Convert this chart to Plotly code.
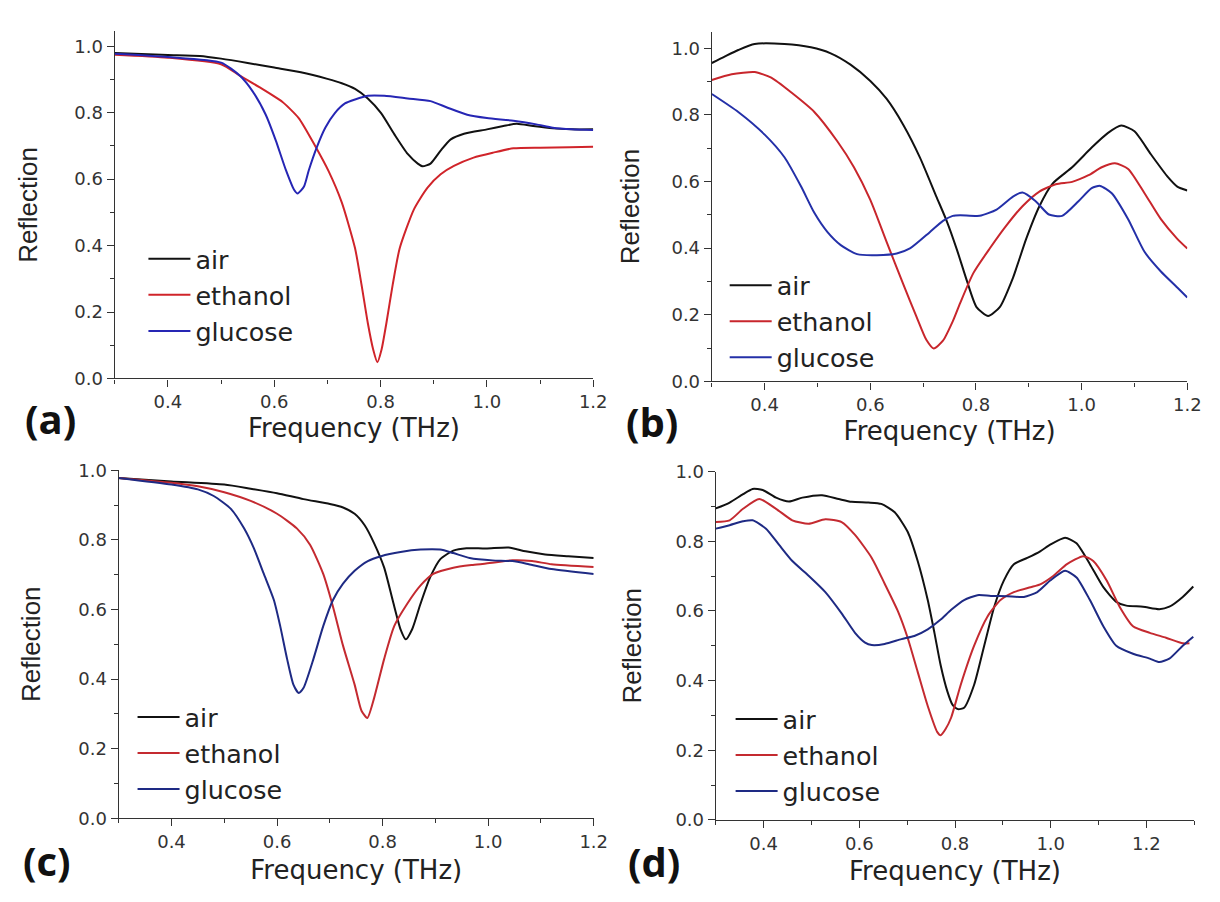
import plotly.graph_objects as go

# ---------------- Panel (a) ----------------
a_air_f = [0.30, 0.35, 0.40, 0.46, 0.50, 0.55, 0.60, 0.65, 0.70, 0.727, 0.752, 0.776, 0.801, 0.826, 0.851, 0.870, 0.879, 0.894, 0.913, 0.932, 0.957, 1.0, 1.031, 1.056, 1.087, 1.124, 1.16, 1.2]
a_air_r = [0.980, 0.977, 0.974, 0.971, 0.963, 0.950, 0.936, 0.922, 0.902, 0.889, 0.872, 0.843, 0.799, 0.735, 0.676, 0.647, 0.639, 0.647, 0.686, 0.720, 0.737, 0.750, 0.760, 0.767, 0.760, 0.753, 0.750, 0.750]
a_eth_f = [0.30, 0.40, 0.50, 0.535, 0.572, 0.615, 0.646, 0.677, 0.702, 0.727, 0.752, 0.764, 0.776, 0.786, 0.794, 0.802, 0.811, 0.823, 0.836, 0.863, 0.888, 0.913, 0.938, 0.975, 1.012, 1.05, 1.1, 1.155, 1.2]
a_eth_r = [0.975, 0.966, 0.946, 0.912, 0.877, 0.833, 0.784, 0.700, 0.625, 0.530, 0.392, 0.284, 0.167, 0.088, 0.049, 0.088, 0.167, 0.284, 0.392, 0.510, 0.574, 0.615, 0.640, 0.665, 0.680, 0.693, 0.695, 0.696, 0.698]
a_glu_f = [0.30, 0.40, 0.50, 0.535, 0.56, 0.584, 0.603, 0.622, 0.637, 0.644, 0.656, 0.665, 0.68, 0.696, 0.714, 0.733, 0.752, 0.776, 0.807, 0.851, 0.894, 0.925, 0.963, 1.0, 1.05, 1.093, 1.124, 1.16, 1.2]
a_glu_r = [0.978, 0.968, 0.951, 0.912, 0.863, 0.794, 0.716, 0.627, 0.569, 0.557, 0.578, 0.627, 0.696, 0.755, 0.799, 0.828, 0.840, 0.851, 0.851, 0.843, 0.835, 0.816, 0.794, 0.784, 0.776, 0.765, 0.755, 0.750, 0.748]

# ---------------- Panel (b) ----------------
b_air_f = [0.30, 0.325, 0.35, 0.381, 0.4375, 0.4875, 0.525, 0.5625, 0.60, 0.631, 0.6625, 0.694, 0.725, 0.745, 0.764, 0.783, 0.801, 0.823, 0.845, 0.87, 0.895, 0.92, 0.945, 0.982, 1.019, 1.05, 1.075, 1.10, 1.131, 1.163, 1.181, 1.20]
b_air_r = [0.956, 0.976, 0.995, 1.013, 1.013, 1.003, 0.985, 0.951, 0.902, 0.848, 0.770, 0.672, 0.555, 0.480, 0.395, 0.301, 0.223, 0.196, 0.223, 0.311, 0.428, 0.526, 0.594, 0.643, 0.702, 0.746, 0.768, 0.751, 0.682, 0.614, 0.585, 0.573]
b_eth_f = [0.30, 0.3375, 0.381, 0.4125, 0.45, 0.494, 0.5375, 0.569, 0.60, 0.631, 0.6625, 0.6875, 0.706, 0.72, 0.7375, 0.756, 0.77, 0.795, 0.826, 0.857, 0.888, 0.92, 0.951, 0.982, 1.013, 1.038, 1.063, 1.088, 1.119, 1.15, 1.181, 1.20]
b_eth_r = [0.905, 0.922, 0.929, 0.912, 0.868, 0.809, 0.721, 0.643, 0.545, 0.418, 0.291, 0.194, 0.125, 0.099, 0.122, 0.180, 0.235, 0.325, 0.399, 0.467, 0.526, 0.570, 0.592, 0.599, 0.619, 0.643, 0.655, 0.638, 0.565, 0.487, 0.428, 0.399]
b_glu_f = [0.30, 0.35, 0.40, 0.4375, 0.469, 0.494, 0.519, 0.544, 0.575, 0.6125, 0.65, 0.675, 0.7125, 0.7375, 0.756, 0.77, 0.807, 0.839, 0.87, 0.888, 0.913, 0.938, 0.963, 0.994, 1.019, 1.035, 1.057, 1.088, 1.119, 1.15, 1.181, 1.20]
b_glu_r = [0.863, 0.809, 0.741, 0.673, 0.585, 0.506, 0.448, 0.409, 0.382, 0.379, 0.384, 0.399, 0.448, 0.482, 0.497, 0.499, 0.497, 0.516, 0.555, 0.567, 0.541, 0.501, 0.497, 0.541, 0.580, 0.587, 0.565, 0.487, 0.389, 0.330, 0.282, 0.252]

# ---------------- Panel (c) ----------------
c_air_f = [0.30, 0.40, 0.50, 0.55, 0.60, 0.65, 0.70, 0.725, 0.747, 0.766, 0.784, 0.803, 0.819, 0.834, 0.844, 0.856, 0.872, 0.89, 0.909, 0.934, 0.959, 0.996, 1.039, 1.071, 1.108, 1.152, 1.20]
c_air_r = [0.978, 0.968, 0.959, 0.947, 0.934, 0.917, 0.903, 0.893, 0.875, 0.842, 0.790, 0.720, 0.627, 0.543, 0.514, 0.543, 0.617, 0.692, 0.744, 0.769, 0.776, 0.775, 0.778, 0.767, 0.758, 0.753, 0.748]
c_eth_f = [0.30, 0.40, 0.45, 0.50, 0.55, 0.60, 0.6375, 0.6625, 0.6875, 0.706, 0.725, 0.747, 0.76, 0.771, 0.784, 0.803, 0.822, 0.847, 0.872, 0.896, 0.934, 0.971, 1.008, 1.046, 1.083, 1.12, 1.20]
c_eth_r = [0.978, 0.964, 0.954, 0.937, 0.912, 0.875, 0.833, 0.786, 0.702, 0.608, 0.496, 0.384, 0.309, 0.288, 0.346, 0.458, 0.552, 0.617, 0.669, 0.702, 0.720, 0.728, 0.734, 0.741, 0.739, 0.730, 0.722]
c_glu_f = [0.30, 0.40, 0.45, 0.48, 0.5125, 0.5375, 0.556, 0.575, 0.594, 0.606, 0.619, 0.631, 0.641, 0.65, 0.669, 0.6875, 0.706, 0.725, 0.747, 0.772, 0.797, 0.834, 0.872, 0.909, 0.934, 0.965, 1.008, 1.046, 1.077, 1.12, 1.20]
c_glu_r = [0.978, 0.959, 0.945, 0.926, 0.889, 0.833, 0.776, 0.702, 0.627, 0.552, 0.458, 0.384, 0.360, 0.374, 0.458, 0.552, 0.627, 0.674, 0.711, 0.739, 0.753, 0.765, 0.772, 0.772, 0.762, 0.748, 0.741, 0.739, 0.730, 0.716, 0.702]

# ---------------- Panel (d) ----------------
d_air_f = [0.30, 0.329, 0.357, 0.377, 0.398, 0.426, 0.453, 0.481, 0.522, 0.557, 0.584, 0.619, 0.646, 0.674, 0.701, 0.722, 0.743, 0.757, 0.77, 0.784, 0.795, 0.806, 0.819, 0.84, 0.861, 0.882, 0.902, 0.923, 0.951, 0.978, 0.999, 1.03, 1.054, 1.082, 1.11, 1.137, 1.158, 1.193, 1.227, 1.248, 1.276, 1.298]
d_air_r = [0.894, 0.911, 0.935, 0.950, 0.947, 0.925, 0.914, 0.925, 0.932, 0.921, 0.913, 0.911, 0.907, 0.883, 0.827, 0.743, 0.631, 0.537, 0.444, 0.369, 0.330, 0.318, 0.322, 0.388, 0.500, 0.612, 0.687, 0.734, 0.752, 0.771, 0.790, 0.810, 0.794, 0.734, 0.668, 0.626, 0.615, 0.612, 0.605, 0.612, 0.640, 0.670]
d_eth_f = [0.30, 0.329, 0.357, 0.391, 0.426, 0.46, 0.494, 0.529, 0.563, 0.591, 0.626, 0.653, 0.681, 0.701, 0.722, 0.743, 0.763, 0.77, 0.78, 0.792, 0.812, 0.84, 0.868, 0.895, 0.923, 0.958, 0.978, 1.006, 1.034, 1.068, 1.089, 1.117, 1.144, 1.172, 1.207, 1.241, 1.276, 1.29]
d_eth_r = [0.855, 0.860, 0.893, 0.921, 0.893, 0.860, 0.850, 0.863, 0.855, 0.818, 0.752, 0.678, 0.598, 0.523, 0.425, 0.327, 0.252, 0.243, 0.260, 0.294, 0.388, 0.500, 0.584, 0.631, 0.654, 0.668, 0.676, 0.701, 0.734, 0.757, 0.743, 0.687, 0.612, 0.556, 0.537, 0.523, 0.507, 0.507]
d_glu_f = [0.30, 0.329, 0.357, 0.377, 0.405, 0.432, 0.46, 0.494, 0.529, 0.563, 0.591, 0.612, 0.626, 0.653, 0.688, 0.715, 0.743, 0.77, 0.792, 0.819, 0.847, 0.875, 0.909, 0.944, 0.972, 0.999, 1.03, 1.054, 1.082, 1.11, 1.137, 1.172, 1.207, 1.227, 1.248, 1.276, 1.298]
d_glu_r = [0.836, 0.846, 0.857, 0.860, 0.836, 0.790, 0.743, 0.701, 0.654, 0.593, 0.537, 0.509, 0.502, 0.505, 0.519, 0.528, 0.547, 0.575, 0.603, 0.631, 0.645, 0.643, 0.642, 0.640, 0.654, 0.687, 0.715, 0.696, 0.631, 0.556, 0.500, 0.477, 0.463, 0.453, 0.463, 0.500, 0.526]

series_names = ["air", "ethanol", "glucose"]
panel_labels = ["(a)", "(b)", "(c)", "(d)"]
x_title = "Frequency (THz)"
y_title = "Reflection"

W, H = 1220, 902
WIDE = "DejaVu Sans, Verdana, sans-serif"
NARROW = "Liberation Sans, Arial, sans-serif"
AX = "#333333"

panels = [
    dict(key="", leg="legend", data=[(a_air_f, a_air_r), (a_eth_f, a_eth_r), (a_glu_f, a_glu_r)],
         colors=["#111111", "#d0242a", "#2626b4"],
         xpx=(108, 592), ypx=(12.7, 368), xr=[0.3, 1.2], yr=[0, 1.045],
         legxy=(137, 222), lab=(43, 409), ystand=29, xstand=7),
    dict(key="2", leg="legend2", data=[(b_air_f, b_air_r), (b_eth_f, b_eth_r), (b_glu_f, b_glu_r)],
         colors=["#111111", "#c8262c", "#2430a8"],
         xpx=(712, 1193), ypx=(13, 371), xr=[0.3, 1.2], yr=[0, 1.05],
         legxy=(725, 249), lab=(651, 412), ystand=24, xstand=7),
    dict(key="3", leg="legend3", data=[(c_air_f, c_air_r), (c_eth_f, c_eth_r), (c_glu_f, c_glu_r)],
         colors=["#111111", "#c42a30", "#1e2a84"],
         xpx=(112, 592.5), ypx=(462, 818.3), xr=[0.3, 1.2], yr=[0, 1.0],
         legxy=(126, 691), lab=(39, 862), ystand=30, xstand=9),
    dict(key="4", leg="legend4", data=[(d_air_f, d_air_r), (d_eth_f, d_eth_r), (d_glu_f, d_glu_r)],
         colors=["#111111", "#c42a30", "#1e2a84"],
         xpx=(716, 1200), ypx=(463.3, 820), xr=[0.3, 1.3], yr=[0, 1.0],
         legxy=(731, 693), lab=(653, 863), ystand=26, xstand=9),
]

fig = go.Figure()
layout = dict(
    width=W, height=H, margin=dict(l=0, r=0, t=0, b=0),
    paper_bgcolor="white", plot_bgcolor="white", showlegend=True,
    annotations=[],
)

for i, p in enumerate(panels):
    xa = "x" + p["key"]
    ya = "y" + p["key"]
    for (f, r), name, col in zip(p["data"], series_names, p["colors"]):
        fig.add_trace(go.Scatter(
            x=f, y=r, mode="lines", name=name,
            line=dict(color=col, width=2, shape="spline", smoothing=0.6),
            xaxis=xa, yaxis=ya, legend=p["leg"], hoverinfo="x+y+name",
        ))
    common = dict(
        showline=True, linecolor=AX, linewidth=1.3, ticks="outside", ticklen=7,
        tickwidth=1.3, tickcolor=AX, showgrid=False, zeroline=False, mirror=False,
        tickfont=dict(family=WIDE, size=18, color="#333333"), tickformat=".1f",
        minor=dict(ticks="outside", ticklen=4, tickwidth=1.2, tickcolor=AX,
                   dtick=0.1, tick0=0, showgrid=False),
        tick0=0, dtick=0.2,
    )
    xdom = [p["xpx"][0] / W, p["xpx"][1] / W]
    ydom = [1 - p["ypx"][1] / H, 1 - p["ypx"][0] / H]
    layout["xaxis" + p["key"]] = dict(
        common, domain=xdom, range=p["xr"], anchor=ya,
        title=dict(text=x_title, font=dict(family=WIDE, size=26, color="#222222"), standoff=p["xstand"]),
    )
    layout["yaxis" + p["key"]] = dict(
        common, domain=ydom, range=p["yr"], anchor=xa,
        title=dict(text=y_title, font=dict(family=NARROW, size=26, color="#222222"), standoff=p["ystand"]),
    )
    lx, ly = p["legxy"]
    layout[p["leg"]] = dict(
        x=lx / W, y=1 - ly / H, xanchor="left", yanchor="top",
        bgcolor="rgba(0,0,0,0)", borderwidth=0, itemwidth=42, tracegroupgap=0,
        font=dict(family=WIDE, size=25.4, color="#222222"),
        itemclick=False, itemdoubleclick=False,
    )
    layout["annotations"].append(dict(
        xref="paper", yref="paper", x=p["lab"][0] / W, y=1 - p["lab"][1] / H,
        xanchor="center", yanchor="middle", showarrow=False,
        text="<b>" + panel_labels[i] + "</b>",
        font=dict(family="Open Sans, Noto Sans, sans-serif", size=40, color="#111111"),
    ))

fig.update_layout(**layout)
fig.write_html("out.html")
